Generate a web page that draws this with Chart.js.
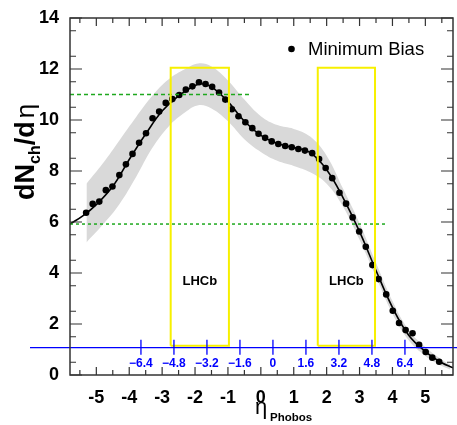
<!DOCTYPE html>
<html lang="en">
<head>
    <meta charset="UTF-8">
    <title>dNch/deta Phobos</title>
    <script src="https://cdn.jsdelivr.net/npm/chart.js"></script>
    <style>
        html, body { margin: 0; padding: 0; background: #fff; }
        #wrap { width: 457px; height: 425px; }
    </style>
</head>
<body>
<div id="wrap"><canvas id="chart" width="457" height="425"></canvas></div>
<script>
    // measured points (Minimum Bias)
    const etaPoints = [-5.31, -5.11, -4.91, -4.71, -4.51, -4.30, -4.10, -3.90, -3.70, -3.49,
        -3.29, -3.09, -2.89, -2.69, -2.48, -2.28, -2.08, -1.88, -1.68, -1.48,
        -1.27, -1.08, -0.88, -0.68, -0.47, -0.26, -0.07, 0.13, 0.33, 0.53,
        0.74, 0.94, 1.14, 1.34, 1.56, 1.77, 1.97, 2.17, 2.39, 2.59,
        2.79, 2.99, 3.19, 3.39, 3.58, 3.81, 4.01, 4.20, 4.40, 4.61,
        4.81, 5.01, 5.21, 5.42];
    const dndetaPoints = [6.36, 6.71, 6.80, 7.25, 7.39, 7.84, 8.26, 8.67, 9.11, 9.48,
        10.07, 10.33, 10.67, 10.82, 10.98, 11.19, 11.32, 11.48, 11.41, 11.30,
        11.08, 10.80, 10.42, 10.15, 9.91, 9.68, 9.46, 9.30, 9.16, 9.06,
        8.98, 8.93, 8.86, 8.80, 8.70, 8.47, 8.12, 7.72, 7.15, 6.72,
        6.18, 5.63, 5.03, 4.31, 3.76, 3.16, 2.52, 2.04, 1.76, 1.64,
        1.18, 0.90, 0.68, 0.52];

    // fitted curve
    const fitEta = [-5.8, -5.4, -5.0, -4.5, -4.0, -3.5, -3.0, -2.5, -2.0, -1.8, -1.5, -1.0,
        -0.5, 0.0, 0.5, 1.0, 1.5, 2.0, 2.5, 3.0, 3.5, 4.0, 4.5, 5.0, 5.5, 5.84];
    const fitValues = [5.92, 6.25, 6.68, 7.40, 8.45, 9.45, 10.35, 10.95, 11.35, 11.42, 11.30, 10.72,
        9.95, 9.40, 9.08, 8.92, 8.72, 8.05, 6.95, 5.62, 4.10, 2.65, 1.55, 0.92, 0.48, 0.28];

    // grey systematic band
    const bandEta = [-5.3, -4.8, -4.3, -3.8, -3.3, -2.8, -2.3, -1.9, -1.5, -1.0, -0.5, 0.0,
        0.5, 1.0, 1.5, 2.0, 2.5, 3.0, 3.5, 4.0, 4.5, 5.0, 5.5, 5.75];
    const bandLow = [5.2, 5.9, 6.7, 7.75, 8.9, 9.75, 10.3, 10.58, 10.45, 9.95, 9.25, 8.75,
        8.4, 8.2, 7.95, 7.5, 6.6, 5.3, 3.85, 2.4, 1.35, 0.75, 0.35, 0.22];
    const bandHigh = [7.5, 8.3, 9.2, 10.1, 10.95, 11.6, 12.0, 12.22, 12.1, 11.55, 10.8, 10.15,
        9.8, 9.65, 9.35, 8.6, 7.3, 5.95, 4.4, 2.9, 1.75, 1.1, 0.6, 0.42];

    // axes
    const xTickValues = [-5, -4, -3, -2, -1, 0, 1, 2, 3, 4, 5];
    const yTickValues = [0, 2, 4, 6, 8, 10, 12, 14];
    const blueTickValues = [-6.4, -4.8, -3.2, -1.6, 0, 1.6, 3.2, 4.8, 6.4];
    const blueLineLevel = 1.07;

    // overlays
    const greenUpperEta = [-5.8, -0.36];
    const greenUpperLevel = 11.0;
    const greenLowerEta = [-5.8, 3.79];
    const greenLowerLevel = 5.92;
    const lhcbLeftBox = [-2.74, -0.97];
    const lhcbRightBox = [1.73, 3.47];
    const lhcbBottom = 1.15;
    const lhcbTop = 12.05;
    const lhcbLabelLevel = 3.66;

    const xy = (xs, ys) => xs.map((x, i) => ({ x: x, y: ys[i] }));
    const flat = (xs, level) => xs.map(x => ({ x: x, y: level }));
    const box = b => [
        { x: b[0], y: lhcbBottom }, { x: b[0], y: lhcbTop }, { x: b[1], y: lhcbTop },
        { x: b[1], y: lhcbBottom }, { x: b[0], y: lhcbBottom }
    ];
    const minus = v => v < 0 ? '\u2212' + Math.abs(v) : String(v);

    const FONT = 'Liberation Sans';
    const frameColor = '#333';

    function drawTicks(ctx, scale, values, len, side, area) {
        values.forEach(v => {
            const p = scale.getPixelForValue(v);
            ctx.beginPath();
            if (side === 'x') {
                ctx.moveTo(p, area.bottom); ctx.lineTo(p, area.bottom - len);
                ctx.moveTo(p, area.top); ctx.lineTo(p, area.top + len);
            } else {
                ctx.moveTo(area.left, p); ctx.lineTo(area.left + len, p);
                ctx.moveTo(area.right, p); ctx.lineTo(area.right - len, p);
            }
            ctx.stroke();
        });
    }

    const decorations = {
        id: 'decorations',
        afterDatasetsDraw(chart) {
            const ctx = chart.ctx;
            const yb = chart.scales.y.getPixelForValue(blueLineLevel);
            ctx.save();
            ctx.strokeStyle = '#0000ff';
            ctx.lineWidth = 1.3;
            ctx.beginPath();
            ctx.moveTo(30, yb); ctx.lineTo(chart.width, yb);
            ctx.stroke();
            blueTickValues.forEach(v => {
                const p = chart.scales.xb.getPixelForValue(v);
                ctx.beginPath();
                ctx.moveTo(p, yb - 8); ctx.lineTo(p, yb + 7);
                ctx.stroke();
            });
            ctx.restore();
        },
        afterDraw(chart) {
            const ctx = chart.ctx;
            const a = chart.chartArea;
            const sx = chart.scales.x, sy = chart.scales.y;
            ctx.save();

            // frame + inward ticks
            ctx.strokeStyle = frameColor;
            ctx.lineWidth = 1.5;
            ctx.strokeRect(a.left, a.top, a.right - a.left, a.bottom - a.top);
            ctx.lineWidth = 1.2;
            const xMinor = [];
            for (let v = -5.5; v <= 5.5; v += 1) xMinor.push(v);
            const yMinor = [];
            for (let v = 0.5; v < 14; v += 1) yMinor.push(v);
            drawTicks(ctx, sx, xTickValues, 8, 'x', a);
            drawTicks(ctx, sx, xMinor, 5, 'x', a);
            drawTicks(ctx, sy, yTickValues, 12, 'y', a);
            drawTicks(ctx, sy, yMinor, 6, 'y', a);

            // LHCb labels
            ctx.fillStyle = '#000';
            ctx.font = 'bold 13px "' + FONT + '"';
            ctx.textAlign = 'center';
            ctx.textBaseline = 'middle';
            [lhcbLeftBox, lhcbRightBox].forEach(b => {
                ctx.fillText('LHCb', sx.getPixelForValue((b[0] + b[1]) / 2), sy.getPixelForValue(lhcbLabelLevel));
            });

            // legend
            ctx.beginPath();
            ctx.arc(291.5, 49, 3.3, 0, Math.PI * 2);
            ctx.fill();
            ctx.textAlign = 'left';
            ctx.textBaseline = 'alphabetic';
            ctx.font = '18.5px "' + FONT + '"';
            ctx.fillText('Minimum Bias', 308, 55);

            // x title
            ctx.font = '22px "' + FONT + '"';
            ctx.fillText('\u03b7', 255, 414);
            ctx.font = 'bold 11.5px "' + FONT + '"';
            ctx.fillText('Phobos', 270, 421);

            // y title
            ctx.translate(34, 200);
            ctx.rotate(-Math.PI / 2);
            let x = 0;
            ctx.font = 'bold 27px "' + FONT + '"';
            ctx.fillText('dN', x, 0);
            x += ctx.measureText('dN').width;
            ctx.font = 'bold 16px "' + FONT + '"';
            ctx.fillText('ch', x, 6);
            x += ctx.measureText('ch').width;
            ctx.font = 'bold 27px "' + FONT + '"';
            ctx.fillText('/d', x, 0);
            x += ctx.measureText('/d').width + 3;
            ctx.font = '26px "' + FONT + '"';
            ctx.fillText('\u03b7', x, 0);
            ctx.restore();
        }
    };

    new Chart(document.getElementById('chart'), {
        type: 'line',
        data: {
            datasets: [
                {
                    label: 'Minimum Bias', data: xy(etaPoints, dndetaPoints), showLine: false,
                    pointRadius: 3.3, pointBorderWidth: 0, backgroundColor: '#000', borderColor: '#000', order: 2
                },
                {
                    label: 'fit', data: xy(fitEta, fitValues), borderColor: '#000', borderWidth: 1.6,
                    pointRadius: 0, tension: 0.4, fill: false, order: 3
                },
                {
                    label: 'band high', data: xy(bandEta, bandHigh), borderColor: 'rgba(0,0,0,0)', borderWidth: 0,
                    pointRadius: 0, tension: 0.4, fill: '+1', backgroundColor: '#d9d9d9', order: 5
                },
                {
                    label: 'band low', data: xy(bandEta, bandLow), borderColor: 'rgba(0,0,0,0)', borderWidth: 0,
                    pointRadius: 0, tension: 0.4, fill: false, order: 6
                },
                {
                    label: 'green upper', data: flat(greenUpperEta, greenUpperLevel), borderColor: '#1ea81e',
                    borderWidth: 1.5, borderDash: [4, 3], pointRadius: 0, fill: false, order: 1
                },
                {
                    label: 'green lower', data: flat(greenLowerEta, greenLowerLevel), borderColor: '#1ea81e',
                    borderWidth: 1.5, borderDash: [3, 3], pointRadius: 0, fill: false, order: 1
                },
                {
                    label: 'LHCb left', data: box(lhcbLeftBox), borderColor: '#f7f000', borderWidth: 2,
                    pointRadius: 0, fill: false, order: 0
                },
                {
                    label: 'LHCb right', data: box(lhcbRightBox), borderColor: '#f7f000', borderWidth: 2,
                    pointRadius: 0, fill: false, order: 0
                }
            ]
        },
        options: {
            responsive: false,
            animation: false,
            layout: { padding: { top: 18, right: 1, left: 0, bottom: 0 } },
            plugins: { legend: { display: false }, tooltip: { enabled: false } },
            scales: {
                x: {
                    type: 'linear', min: -5.8, max: 5.84,
                    grid: { display: false }, border: { display: false },
                    afterBuildTicks: s => { s.ticks = xTickValues.map(v => ({ value: v })); },
                    afterFit: s => { s.height = 50; },
                    ticks: {
                        color: '#000', padding: 4, autoSkip: false, maxRotation: 0,
                        font: { family: FONT, size: 18, weight: 'bold' },
                        callback: v => v < 0 ? '-' + Math.abs(v) : String(v)
                    }
                },
                y: {
                    min: 0, max: 14,
                    grid: { display: false }, border: { display: false },
                    afterBuildTicks: s => { s.ticks = yTickValues.map(v => ({ value: v })); },
                    afterFit: s => { s.width = 70; },
                    ticks: {
                        color: '#000', padding: 3,
                        font: { family: FONT, size: 18, weight: 'bold' }
                    }
                },
                xb: {
                    type: 'linear', position: { y: blueLineLevel }, min: -9.84, max: 8.73,
                    grid: { display: false }, border: { display: false },
                    afterBuildTicks: s => { s.ticks = blueTickValues.map(v => ({ value: v })); },
                    ticks: {
                        color: '#0000ff', padding: 1, autoSkip: false, maxRotation: 0,
                        font: { family: FONT, size: 12, weight: 'bold' },
                        callback: v => minus(v)
                    }
                }
            }
        },
        plugins: [decorations]
    });
</script>
</body>
</html>
